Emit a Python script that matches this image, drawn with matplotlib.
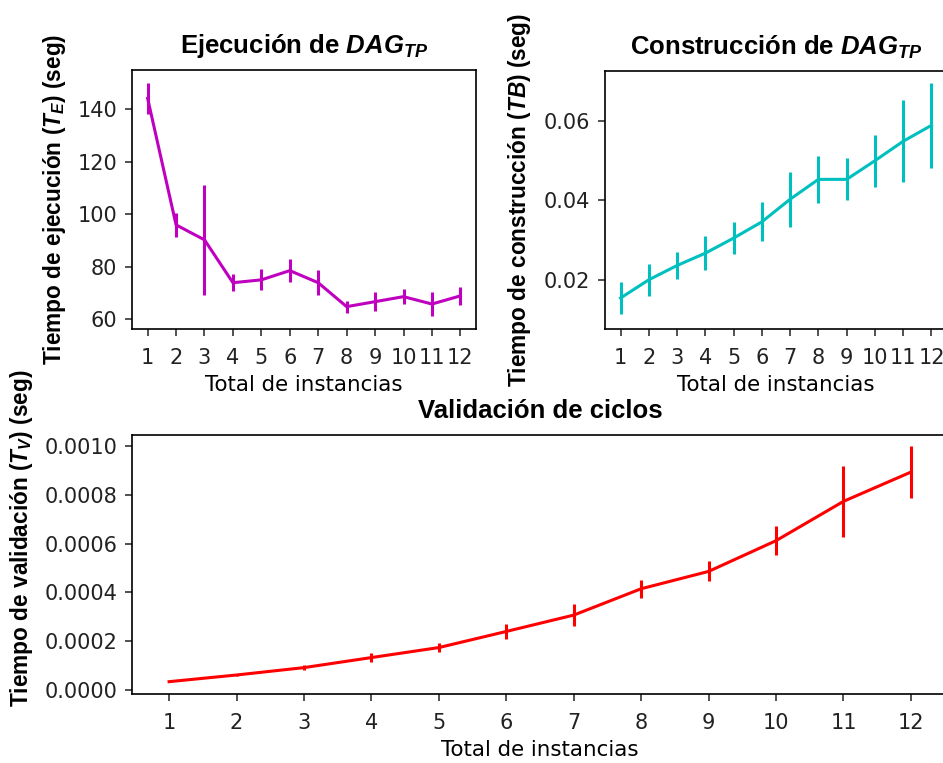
import numpy as np
import matplotlib
matplotlib.use('Agg')
from matplotlib import pyplot as plt

instancias = [1, 2, 3, 4, 5, 6, 7, 8, 9, 10, 11, 12]

# ejecucion de DAG_TP (seg)
t_ejec = [144.0, 95.9, 90.2, 73.9, 75.0, 78.5, 73.9, 64.8, 66.7, 68.6, 65.8, 68.9]
t_ejec_err = [6.0, 4.5, 21.0, 3.3, 4.0, 4.5, 4.7, 2.3, 3.5, 2.8, 4.4, 3.3]

# construccion de DAG_TP (seg)
t_cons = [0.0154, 0.0200, 0.0236, 0.0267, 0.0305, 0.0346, 0.0403, 0.0453, 0.0453,
          0.0500, 0.0549, 0.0589]
t_cons_err = [0.0041, 0.0041, 0.0033, 0.0043, 0.0040, 0.0049, 0.0069, 0.0060, 0.0053,
              0.0066, 0.0103, 0.0107]

# validacion de ciclos (seg)
t_val = [0.0000342, 0.0000616, 0.0000918, 0.000133, 0.000174, 0.000240, 0.000307,
         0.000415, 0.000486, 0.000612, 0.000773, 0.000893]
t_val_err = [0.000002, 0.000003, 0.000011, 0.000020, 0.000017, 0.000030, 0.000044,
             0.000037, 0.000041, 0.000059, 0.000147, 0.000106]

plt.rcParams['font.family'] = 'DejaVu Sans'
plt.rcParams['mathtext.fontset'] = 'custom'
plt.rcParams['mathtext.it'] = 'Liberation Sans:bold:italic'
plt.rcParams['mathtext.rm'] = 'Liberation Sans:bold'
plt.rcParams['mathtext.bf'] = 'Liberation Sans:bold'
plt.rcParams['axes.linewidth'] = 1.2
plt.rcParams['text.color'] = '#222222'
plt.rcParams['xtick.color'] = '#222222'
plt.rcParams['ytick.color'] = '#222222'

W, H = 943, 763
fig = plt.figure(figsize=(W / 100, H / 100), dpi=100)


def px_axes(x0, y0, x1, y1):
    return fig.add_axes([x0 / W, 1 - y1 / H, (x1 - x0) / W, (y1 - y0) / H])


title_kw = dict(fontsize=18.5, fontweight='bold', family='Liberation Sans', color='black')
label_kw = dict(fontsize=16.3, fontweight='bold', family='Liberation Sans', color='black')

ax1 = px_axes(132, 70, 476, 329)
ax2 = px_axes(605, 71, 947, 329)
ax3 = px_axes(132, 435, 948, 694)

for ax, y, e, c in [(ax1, t_ejec, t_ejec_err, 'm'),
                    (ax2, t_cons, t_cons_err, 'c'),
                    (ax3, t_val, t_val_err, 'r')]:
    ax.errorbar(instancias, y, yerr=e, color=c, lw=2.2, elinewidth=2.2, capsize=0)
    ax.set_xticks(instancias)
    ax.tick_params(labelsize=15, length=5, width=1.1)
    ax.tick_params(axis='x', pad=8.5)
    ax.tick_params(axis='y', pad=5.5)
    ax.set_xlabel('Total de instancias', fontsize=15.4, labelpad=5)
    ax.set_xlim(0.45, 12.55)

ax1.set_ylim(56.3, 154.8)
ax1.set_yticks([60, 80, 100, 120, 140])
ax1.set_title(r'Ejecución de $DAG_{TP}$', pad=12, **title_kw)
ax1.set_ylabel(r'Tiempo de ejecución ($T_E$) (seg)', **label_kw)
ax1.yaxis.set_label_coords(-0.186, 0.5)

ax2.set_ylim(0.0076, 0.0726)
ax2.set_yticks([0.02, 0.04, 0.06])
ax2.set_title(r'Construcción de $DAG_{TP}$', pad=12, **title_kw)
ax2.set_ylabel(r'Tiempo de construcción ($TB$) (seg)', **label_kw)
ax2.yaxis.set_label_coords(-0.21, 0.5)

ax3.set_ylim(-0.0000163, 0.001045)
ax3.set_yticks([0, 0.0002, 0.0004, 0.0006, 0.0008, 0.0010])
ax3.set_yticklabels(['0.0000', '0.0002', '0.0004', '0.0006', '0.0008', '0.0010'])
ax3.set_title('Validación de ciclos', pad=12, **title_kw)
ax3.set_ylabel(r'Tiempo de validación ($T_V$) (seg)', **label_kw)
ax3.yaxis.set_label_coords(-0.119, 0.6)

fig.savefig('out.png', dpi=100)
